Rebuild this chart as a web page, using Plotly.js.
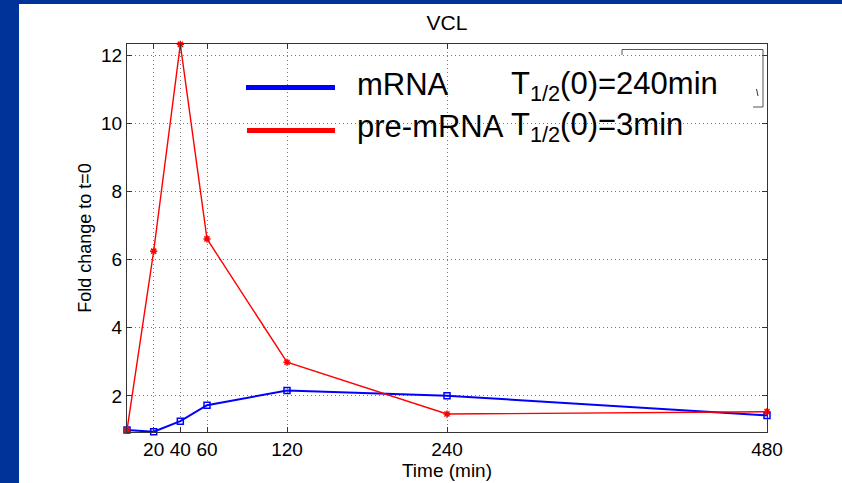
<!DOCTYPE html>
<html>
<head>
<meta charset="utf-8">
<script src="https://cdn.plot.ly/plotly-3.0.1.min.js"></script>
<style>
  html, body { margin:0; padding:0; background:#003399; width:842px; height:483px; overflow:hidden; }
  #chart { position:absolute; left:19px; top:4px; width:823px; height:479px; background:#fff; }
</style>
</head>
<body>
<div id="chart"></div>
<script>
// ---- data ----
const timeMin = [0, 20, 40, 60, 120, 240, 480];
const mRNA    = [1.0, 0.95, 1.26, 1.73, 2.16, 2.01, 1.43];
const preMRNA = [1.0, 6.25, 12.32, 6.61, 2.99, 1.47, 1.54];
const xTicks  = [20, 40, 60, 120, 240, 480];
const yTicks  = [2, 4, 6, 8, 10, 12];
const legendNames = ['mRNA', 'pre-mRNA'];
const legendHalf  = ['T<sub>1/2</sub>(0)=240min', 'T<sub>1/2</sub>(0)=3min'];

// ---- geometry helpers (page pixels -> paper coords) ----
const PL = 127, PR = 767, PT = 44, PB = 432;
const px = x => (x - PL) / (PR - PL);
const py = y => (PB - y) / (PB - PT);

const FONT = 'Liberation Sans, Arial, Helvetica, sans-serif';

const traces = [
  {
    x: timeMin, y: mRNA, type: 'scatter', mode: 'lines+markers', name: legendNames[0],
    line: {color: '#0000ff', width: 2},
    marker: {symbol: 'square-open', size: 6, color: '#0000ff', line: {width: 1.5, color: '#0000ff'}},
    showlegend: false, cliponaxis: false
  },
  {
    x: timeMin, y: preMRNA, type: 'scatter', mode: 'lines+markers', name: legendNames[1],
    line: {color: '#ff0000', width: 1.4},
    marker: {symbol: 'asterisk-open', size: 6, color: '#ff0000', line: {width: 1.5, color: '#ff0000'}},
    showlegend: false, cliponaxis: false
  }
];

const axisCommon = {
  showline: true, linecolor: '#333', linewidth: 1, mirror: 'ticks',
  ticks: 'inside', ticklen: 5, tickcolor: '#333', tickwidth: 1,
  showgrid: true, gridcolor: '#777', griddash: '1px,3px', gridwidth: 1,
  zeroline: false, tickfont: {family: FONT, size: 19, color: '#000'},
  fixedrange: true
};

const g = (x0, y0, x1, y1, color, width) => ({
  type: 'line', xref: 'paper', yref: 'paper',
  x0: px(x0), y0: py(y0), x1: px(x1), y1: py(y1),
  line: {color: color, width: width}
});

const shapes = [
  // white area behind the legend text (hides grid)
  {type: 'rect', xref: 'paper', yref: 'paper', layer: 'between',
   x0: px(335), x1: px(763), y0: py(150), y1: py(46),
   fillcolor: '#ffffff', line: {width: 0}},
  // legend line samples
  g(246, 87.5, 335, 87.5, '#0000ff', 5),
  g(247, 130.5, 335, 130.5, '#ff0000', 5),
  // remnants of a box at top right
  g(622, 49.5, 763, 49.5, '#555', 1),
  g(763, 49.5, 763, 107, '#555', 1),
  g(753, 107, 763, 107, '#555', 1),
  g(622, 49.5, 622, 55, '#555', 1),
  g(756.5, 89, 758, 96, '#333', 1)
];

const annFont = {family: FONT, size: 31, color: '#000'};
const annotations = [
  {text: legendNames[0], x: px(355), y: py(85), xref: 'paper', yref: 'paper',
   xanchor: 'left', yanchor: 'middle', showarrow: false, font: annFont},
  {text: legendHalf[0], x: px(509), y: py(86), xref: 'paper', yref: 'paper',
   xanchor: 'left', yanchor: 'middle', showarrow: false, font: annFont},
  {text: legendNames[1], x: px(355), y: py(126), xref: 'paper', yref: 'paper',
   xanchor: 'left', yanchor: 'middle', showarrow: false, font: annFont},
  {text: legendHalf[1], x: px(509), y: py(127), xref: 'paper', yref: 'paper',
   xanchor: 'left', yanchor: 'middle', showarrow: false, font: annFont}
];

const layout = {
  width: 823, height: 479,
  margin: {l: PL - 19, r: 842 - PR, t: PT - 4, b: 483 - PB},
  paper_bgcolor: '#ffffff', plot_bgcolor: '#ffffff',
  font: {family: FONT, color: '#000'},
  title: {text: 'VCL', font: {family: FONT, size: 21, color: '#000'},
          x: 0.5, xref: 'paper', xanchor: 'center', y: 1 - 19 / 479, yref: 'container', yanchor: 'middle'},
  xaxis: Object.assign({}, axisCommon, {
    range: [0, 480], tickvals: xTicks, ticktext: xTicks.map(String),
    title: {text: 'Time (min)', font: {family: FONT, size: 19, color: '#000'}, standoff: 0}
  }),
  yaxis: Object.assign({}, axisCommon, {
    range: [0.943, 12.33], tickvals: yTicks, ticktext: yTicks.map(String),
    title: {text: 'Fold change to t=0', font: {family: FONT, size: 18, color: '#000'}, standoff: 4}
  }),
  shapes: shapes,
  annotations: annotations,
  showlegend: false
};

Plotly.newPlot('chart', traces, layout, {displayModeBar: false, staticPlot: true});
</script>
</body>
</html>
